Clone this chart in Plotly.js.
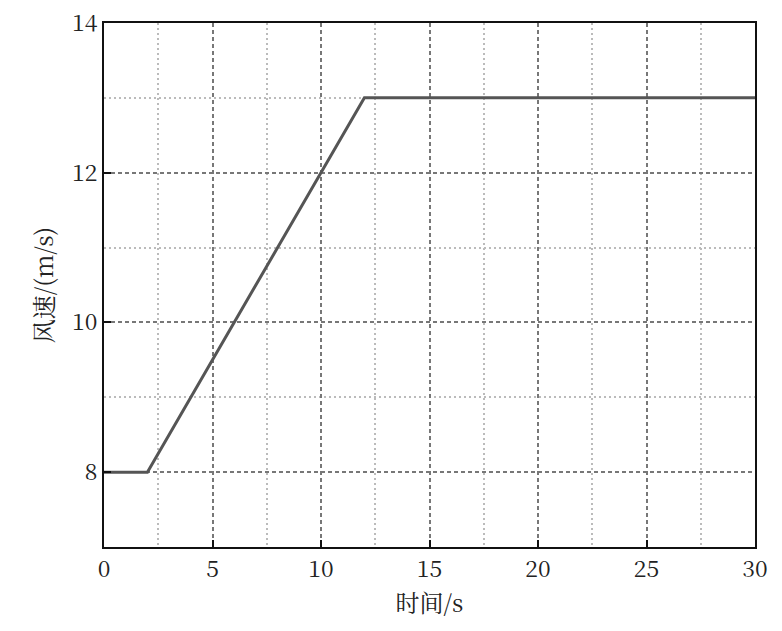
<!DOCTYPE html>
<html>
<head>
<meta charset="utf-8">
<script src="https://cdn.plot.ly/plotly-3.0.1.min.js"></script>
</head>
<body style="margin:0;padding:0;background:#fff">
<div id="chart" style="width:782px;height:631px"></div>
<script>
// Data
const timeS = [0, 2, 12, 30];
const windSpeed = [8, 8, 13, 13];
const xTickVals = [0, 5, 10, 15, 20, 25, 30];
const xMinorVals = [2.5, 7.5, 12.5, 17.5, 22.5, 27.5];
const yTickVals = [8, 10, 12, 14];
const yMinorVals = [9, 11, 13];
const xTitle = '时间/s';
const yTitle = '风速/(m/s)';

const fontFamily = 'Noto Serif CJK SC';

const trace = {
  x: timeS,
  y: windSpeed,
  type: 'scatter',
  mode: 'lines',
  line: {color: '#555555', width: 3},
  showlegend: false,
  hoverinfo: 'skip'
};

const gridMajor = '#777777';
const gridMinor = '#bbbbbb';

function axisBase() {
  return {
    ticks: 'inside',
    ticklen: 7,
    tickwidth: 2,
    tickcolor: '#111',
    showline: true,
    linecolor: '#111',
    linewidth: 2,
    mirror: true,
    showgrid: true,
    gridcolor: gridMajor,
    griddash: '4px,3px',
    gridwidth: 1.5,
    zeroline: false,
    tickfont: {family: fontFamily, size: 23, color: '#222222'},
    automargin: false
  };
}

const layout = {
  width: 782,
  height: 631,
  margin: {l: 104, r: 27, t: 23, b: 84},
  paper_bgcolor: '#ffffff',
  plot_bgcolor: '#ffffff',
  font: {family: fontFamily, size: 24, color: '#222222'},
  xaxis: Object.assign(axisBase(), {
    range: [0, 30],
    tickmode: 'array',
    tickvals: xTickVals,
    ticktext: xTickVals.map(String),
    minor: {tickmode: 'array', tickvals: xMinorVals, showgrid: true, gridcolor: gridMinor, griddash: '2px,3px', gridwidth: 1.5, ticks: ''},
    title: {text: xTitle, font: {family: fontFamily, size: 24, color: '#222222'}, standoff: 4}
  }),
  yaxis: Object.assign(axisBase(), {
    range: [7, 14],
    tickmode: 'array',
    tickvals: yTickVals,
    ticktext: yTickVals.map(String),
    minor: {tickmode: 'array', tickvals: yMinorVals, showgrid: true, gridcolor: gridMinor, griddash: '2px,3px', gridwidth: 1.5, ticks: ''},
    title: {text: yTitle, font: {family: fontFamily, size: 24, color: '#222222'}, standoff: 12}
  })
};

Plotly.newPlot('chart', [trace], layout, {displayModeBar: false});
</script>
</body>
</html>
